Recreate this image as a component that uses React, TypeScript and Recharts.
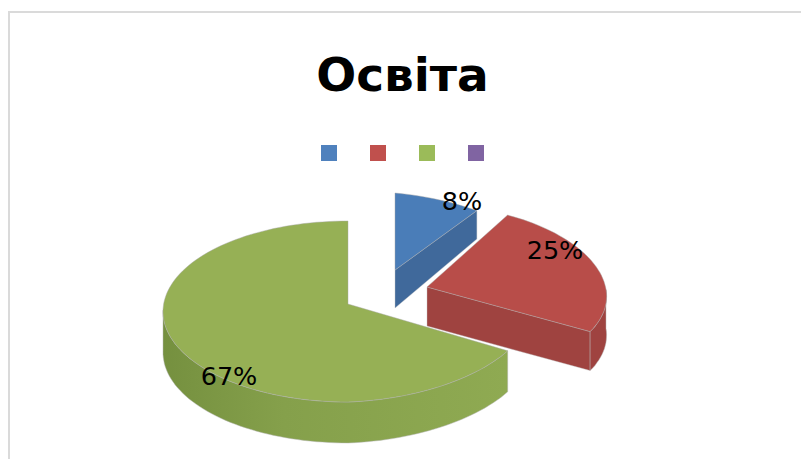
import { PieChart, Pie, Cell, Legend } from 'recharts'

const CATEGORIES = [' ', '  ', '   ', '    ']
const VALUES = [8, 25, 67, 0]
const COLORS = ['#4F81BD', '#C0504D', '#9BBB59', '#8064A2']

// Що PowerPoint робить перспективою, тут задано окремо для кожного сектора
const TOP_COLORS = ['#4A7DB8', '#B84D49', '#96B055', '#8064A2']
const WALL_COLORS = ['#40699B', '#9F4340', 'url(#greenWall)', '#6B5488']
const SLICE_STYLE = [
  { dx: 47, dy: -34, rx: 182, ry: 83, shift: 6, skew: 0.09, rot: 0, k: 0.08, depth: 38, labelX: 67, labelY: -69 },
  { dx: 79, dy: -17, rx: 179, ry: 87, shift: 6, skew: -0.02, rot: 0, k: 0.08, depth: 39, labelX: 128, labelY: -37 },
  { dx: 0, dy: 0, rx: 185, ry: 90.5, shift: 7.5, skew: -0.04, rot: 1.5, k: 0, depth: 41, labelX: -119, labelY: 72 },
  { dx: 0, dy: 0, rx: 185, ry: 91, shift: 7, skew: 0, rot: 0, k: 0, depth: 41, labelX: 0, labelY: 0 },
]

const chartData = CATEGORIES.map((name, i) => ({ name, value: VALUES[i], slot: i }))

const project = (s: (typeof SLICE_STYLE)[number], deg: number) => {
  // deg за годинниковою від 12 години
  const warped = deg + s.rot * (1 - Math.max(0, deg - 180) / 180)
  const rad = (warped * Math.PI) / 180
  const u = Math.sin(rad)
  const v = -Math.cos(rad)
  const x = (s.rx * u) / (1 - s.k * v)
  const y = s.shift + s.ry * v + s.skew * Math.max(x, 0)
  return { x, y, depth: s.depth + 11 * Math.min(v, 0) }
}

const toPath = (pts: { x: number; y: number }[]) =>
  pts.map((p, i) => `${i ? 'L' : 'M'}${p.x.toFixed(1)},${p.y.toFixed(1)}`).join(' ') + ' Z'

const renderSlice = (props: any) => {
  const slot = props.slot ?? props.payload?.slot ?? 0
  if (!VALUES[slot]) return <g />
  const s = SLICE_STYLE[slot]
  const ox = props.cx + s.dx
  const oy = props.cy + s.dy
  const a0 = 90 - props.startAngle
  const a1 = 90 - props.endAngle

  const rim = (from: number, to: number) => {
    const pts = []
    const steps = Math.max(2, Math.ceil(Math.abs(to - from) / 2))
    for (let i = 0; i <= steps; i++) {
      const p = project(s, from + ((to - from) * i) / steps)
      pts.push({ x: ox + p.x, y: oy + p.y, depth: p.depth })
    }
    return pts
  }
  const arc = rim(a0, a1)
  const lo = Math.max(a0, 90)
  const hi = Math.min(a1, 270)
  const outer = hi > lo ? rim(lo, hi) : []
  const lower = (pts: { x: number; y: number; depth: number }[]) =>
    pts.map(p => ({ x: p.x, y: p.y + p.depth })).reverse()
  const last = arc[arc.length - 1]
  const showEnd = a1 > 0 && a1 < 180

  return (
    <g>
      {showEnd && (
        <path
          d={toPath([
            { x: ox, y: oy },
            last,
            { x: last.x, y: last.y + last.depth },
            { x: ox, y: oy + s.depth },
          ])}
          fill={WALL_COLORS[slot]}
          stroke="#c4c4c4"
          strokeOpacity={0.5}
          strokeWidth={0.8}
        />
      )}
      {outer.length > 0 && (
        <path
          d={toPath([...outer, ...lower(outer)])}
          fill={WALL_COLORS[slot]}
          stroke="#b5b5b5"
          strokeOpacity={0.6}
          strokeWidth={0.8}
        />
      )}
      <path
        d={toPath([{ x: ox, y: oy }, ...arc])}
        fill={TOP_COLORS[slot]}
        stroke="#a8a8a8"
        strokeOpacity={0.55}
        strokeWidth={0.8}
      />
    </g>
  )
}

const renderLabel = (props: any) => {
  const slot = props.slot ?? props.payload?.slot ?? props.index
  if (!VALUES[slot]) return null
  const s = SLICE_STYLE[slot]
  return (
    <text
      x={props.cx + s.dx + s.labelX}
      y={props.cy + s.dy + s.labelY}
      textAnchor="middle"
      dominantBaseline="central"
      fontFamily="DejaVu Sans"
      fontSize={25.5}
      fill="#000"
    >
      {`${Math.round(props.percent * 100)}%`}
    </text>
  )
}

export default function App() {
  return (
    <div style={{ position: 'absolute', left: 0, top: 0, width: 801, height: 459, overflow: 'hidden', background: '#fff' }}>
      <PieChart width={801} height={459} margin={{ top: 0, right: 0, bottom: 0, left: 0 }}>
        <defs>
          <linearGradient id="greenWall" x1="0" y1="0" x2="1" y2="0">
            <stop offset="0" stopColor="#75903F" />
            <stop offset="0.35" stopColor="#85A04B" />
            <stop offset="1" stopColor="#8FAA52" />
          </linearGradient>
        </defs>
        <rect x={9} y={12} width={1000} height={1000} fill="none" stroke="#dadada" strokeWidth={2} />
        <text
          x={402.5}
          y={91}
          textAnchor="middle"
          fontFamily="DejaVu Sans"
          fontWeight="bold"
          fontSize={47}
          fill="#000"
        >
          Освіта
        </text>
        <Legend
          layout="horizontal"
          iconType="square"
          iconSize={16}
          wrapperStyle={{ position: 'absolute', left: 321, top: 145, width: 196, bottom: 'auto', textAlign: 'left', lineHeight: 0 }}
          formatter={() => <span style={{ display: 'inline-block', width: 19 }} />}
        />
        <Pie
          data={chartData}
          dataKey="value"
          nameKey="name"
          cx={348}
          cy={304}
          outerRadius={182}
          startAngle={90}
          endAngle={-270}
          legendType="square"
          labelLine={false}
          label={renderLabel}
          shape={renderSlice}
          stroke="none"
          isAnimationActive={false}
        >
          {chartData.map((entry, index) => (
            <Cell key={`cell-${index}`} fill={COLORS[entry.slot]} />
          ))}
        </Pie>
      </PieChart>
    </div>
  )
}
